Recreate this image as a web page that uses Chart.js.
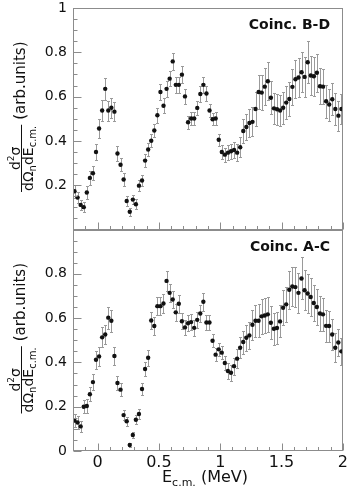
<!DOCTYPE html>
<html>
<head>
<meta charset="utf-8">
<script src="https://cdn.jsdelivr.net/npm/chart.js@4.4.0/dist/chart.umd.min.js"></script>
<style>
  body { margin: 0; background: #fff; }
  #wrap { position: relative; width: 350px; height: 493px; }
  canvas { position: absolute; left: 0; top: 0; }
</style>
</head>
<body>
<div id="wrap">
  <canvas id="topChart" width="350" height="493"></canvas>
  <canvas id="bottomChart" width="350" height="493"></canvas>
</div>
<script>
// bin centres, E c.m. in MeV
const energies = [
  -0.1875,-0.1625,-0.1375,-0.1125,-0.0875,-0.0625,-0.0375,-0.0125,0.0125,0.0375,
  0.0625,0.0875,0.1125,0.1375,0.1625,0.1875,0.2125,0.2375,0.2625,0.2875,
  0.3125,0.3375,0.3625,0.3875,0.4125,0.4375,0.4625,0.4875,0.5125,0.5375,
  0.5625,0.5875,0.6125,0.6375,0.6625,0.6875,0.7125,0.7375,0.7625,0.7875,
  0.8125,0.8375,0.8625,0.8875,0.9125,0.9375,0.9625,0.9875,1.0125,1.0375,
  1.0625,1.0875,1.1125,1.1375,1.1625,1.1875,1.2125,1.2375,1.2625,1.2875,
  1.3125,1.3375,1.3625,1.3875,1.4125,1.4375,1.4625,1.4875,1.5125,1.5375,
  1.5625,1.5875,1.6125,1.6375,1.6625,1.6875,1.7125,1.7375,1.7625,1.7875,
  1.8125,1.8375,1.8625,1.8875,1.9125,1.9375,1.9625,1.9875
];

const bdValues = [
  0.173,0.144,0.111,0.101,0.167,0.233,0.254,0.350,0.456,0.537,
  0.635,0.537,0.550,0.532,0.343,0.292,0.226,0.129,0.080,0.135,
  0.114,0.198,0.221,0.311,0.361,0.401,0.447,0.516,0.621,0.559,
  0.635,0.681,0.759,0.653,0.653,0.699,0.601,0.484,0.501,0.501,
  0.549,0.612,0.653,0.614,0.537,0.498,0.501,0.405,0.350,0.338,
  0.347,0.353,0.359,0.347,0.371,0.445,0.463,0.481,0.486,0.544,
  0.621,0.618,0.645,0.669,0.595,0.547,0.543,0.537,0.550,0.573,
  0.589,0.644,0.678,0.686,0.710,0.689,0.755,0.695,0.692,0.708,
  0.647,0.645,0.579,0.564,0.588,0.544,0.514,0.544
];
const bdErrors = [
  0.030,0.025,0.022,0.022,0.030,0.030,0.032,0.038,0.045,0.048,
  0.050,0.045,0.045,0.043,0.035,0.030,0.028,0.022,0.018,0.022,
  0.022,0.025,0.025,0.028,0.030,0.030,0.030,0.033,0.035,0.035,
  0.035,0.035,0.040,0.035,0.035,0.038,0.035,0.030,0.030,0.030,
  0.032,0.035,0.035,0.035,0.030,0.028,0.028,0.028,0.030,0.032,
  0.035,0.035,0.037,0.040,0.045,0.055,0.060,0.062,0.065,0.075,
  0.078,0.080,0.082,0.085,0.075,0.070,0.070,0.070,0.072,0.075,
  0.078,0.082,0.085,0.087,0.090,0.090,0.095,0.090,0.088,0.085,
  0.080,0.078,0.075,0.072,0.072,0.070,0.068,0.068
];

const acValues = [
  0.137,0.129,0.111,0.200,0.203,0.256,0.311,0.412,0.427,0.513,
  0.526,0.602,0.588,0.429,0.307,0.277,0.162,0.134,0.027,0.072,
  0.141,0.167,0.280,0.370,0.421,0.589,0.564,0.654,0.654,0.666,
  0.768,0.714,0.684,0.626,0.665,0.586,0.558,0.577,0.582,0.556,
  0.592,0.621,0.674,0.580,0.580,0.498,0.435,0.459,0.444,0.397,
  0.361,0.353,0.383,0.417,0.466,0.492,0.511,0.522,0.570,0.588,
  0.588,0.608,0.612,0.617,0.579,0.552,0.555,0.585,0.647,0.662,
  0.728,0.743,0.740,0.714,0.779,0.726,0.711,0.695,0.668,0.650,
  0.621,0.617,0.565,0.564,0.526,0.466,0.490,0.450
];
const acErrors = [
  0.030,0.030,0.025,0.030,0.030,0.032,0.035,0.040,0.042,0.045,
  0.045,0.050,0.050,0.040,0.032,0.030,0.022,0.020,0.010,0.015,
  0.020,0.022,0.028,0.030,0.035,0.040,0.040,0.042,0.042,0.042,
  0.045,0.042,0.040,0.038,0.040,0.035,0.035,0.035,0.035,0.035,
  0.035,0.038,0.040,0.035,0.035,0.030,0.030,0.030,0.030,0.032,
  0.035,0.035,0.038,0.042,0.048,0.052,0.058,0.062,0.068,0.072,
  0.075,0.078,0.080,0.080,0.075,0.072,0.072,0.072,0.078,0.080,
  0.085,0.088,0.090,0.090,0.095,0.090,0.088,0.085,0.082,0.080,
  0.078,0.075,0.072,0.070,0.068,0.065,0.062,0.060
];

const xTicks = [0, 0.5, 1, 1.5, 2];
const yTicksTop = [0.2, 0.4, 0.6, 0.8, 1];
const yTicksBottom = [0, 0.2, 0.4, 0.6, 0.8];

const FONT = '"DejaVu Sans", sans-serif';
Chart.defaults.font.family = FONT;

// draw a row of text pieces (for sub/superscripts), returns width
function textRuns(ctx, runs, x, y, draw) {
  let w = 0;
  runs.forEach(r => {
    ctx.font = (r.bold ? 'bold ' : '') + r.size + 'px ' + FONT;
    if (draw) ctx.fillText(r.t, x + w, y + (r.dy || 0));
    w += ctx.measureText(r.t).width;
  });
  return w;
}

function drawYTitle(ctx, cy) {
  const num = [{t: 'd', size: 14}, {t: '2', size: 9, dy: -6}, {t: 'σ', size: 14}];
  const den = [{t: 'dΩ', size: 14}, {t: 'n', size: 10, dy: 3}, {t: 'dE', size: 14}, {t: 'c.m.', size: 10, dy: 3}];
  const unit = [{t: '(arb.units)', size: 15}];
  ctx.save();
  ctx.translate(0, cy);
  ctx.rotate(-Math.PI / 2);
  ctx.fillStyle = '#111';
  ctx.textBaseline = 'alphabetic';
  ctx.textAlign = 'left';
  const wn = textRuns(ctx, num, 0, 0, false);
  const wd = textRuns(ctx, den, 0, 0, false);
  const wu = textRuns(ctx, unit, 0, 0, false);
  const wf = Math.max(wn, wd) + 2;
  const gap = 5;
  const u0 = -(wf + gap + wu) / 2 + 2;
  ctx.strokeStyle = '#111';
  ctx.lineWidth = 1;
  ctx.beginPath();
  ctx.moveTo(u0, 21.5);
  ctx.lineTo(u0 + wf, 21.5);
  ctx.stroke();
  textRuns(ctx, num, u0 + (wf - wn) / 2, 19.5, true);
  textRuns(ctx, den, u0 + (wf - wd) / 2, 33, true);
  textRuns(ctx, unit, u0 + wf + gap, 24.5, true);
  ctx.restore();
}

const errorBars = {
  id: 'errorBars',
  beforeDatasetsDraw(chart, args, opts) {
    const {ctx, chartArea: a, scales: {y}} = chart;
    const pts = chart.getDatasetMeta(0).data;
    const vals = chart.data.datasets[0].data;
    ctx.save();
    ctx.beginPath();
    ctx.rect(a.left, a.top, a.right - a.left, a.bottom - a.top);
    ctx.clip();
    ctx.strokeStyle = '#9a9a9a';
    ctx.lineWidth = 1;
    ctx.beginPath();
    pts.forEach((p, i) => {
      const v = vals[i].y, e = opts.errors[i];
      const y1 = Math.round(y.getPixelForValue(v + e)) + 0.5;
      const y2 = Math.round(y.getPixelForValue(v - e)) + 0.5;
      const px = Math.round(p.x) + 0.5;
      ctx.moveTo(px, y1); ctx.lineTo(px, y2);
      ctx.moveTo(px - 1.5, y1); ctx.lineTo(px + 1.5, y1);
      ctx.moveTo(px - 1.5, y2); ctx.lineTo(px + 1.5, y2);
    });
    ctx.stroke();
    ctx.restore();
  }
};

const frame = {
  id: 'frame',
  afterDraw(chart, args, opts) {
    const {ctx, chartArea: a, scales: {x, y}} = chart;
    const L = Math.round(a.left) + 0.5, R = Math.round(a.right) - 0.5;
    const T = Math.round(a.top) + 0.5, B = Math.round(a.bottom) - 0.5;
    ctx.save();
    ctx.strokeStyle = '#8c8c8c';
    ctx.lineWidth = 1;
    ctx.strokeRect(L, T, R - L, B - T);
    ctx.beginPath();
    for (let k = -2; k <= 20; k++) {
      const px = Math.round(x.getPixelForValue(k / 10)) + 0.5;
      const len = k % 5 === 0 ? 7 : 3.5;
      ctx.moveTo(px, B); ctx.lineTo(px, B - len);
    }
    for (let k = 0; k <= 20; k++) {
      const py = Math.round(y.getPixelForValue(k / 20)) + 0.5;
      const len = k % 4 === 0 ? 8 : 4;
      ctx.moveTo(L, py); ctx.lineTo(L + len, py);
    }
    ctx.stroke();

    // panel label
    ctx.fillStyle = '#111';
    ctx.textAlign = 'right';
    ctx.textBaseline = 'alphabetic';
    ctx.font = 'bold 14px ' + FONT;
    ctx.fillText(opts.label, 330, a.top + 21);

    drawYTitle(ctx, (a.top + a.bottom) / 2);

    if (opts.xTitle) {
      ctx.textAlign = 'left';
      const runs = [{t: 'E', size: 16}, {t: 'c.m.', size: 11, dy: 4}, {t: ' (MeV)', size: 16}];
      const w = textRuns(ctx, runs, 0, 0, false);
      textRuns(ctx, runs, 205 - w / 2, 481.5, true);
    }
    ctx.restore();
  }
};

function makePanel(id, values, errors, label, yTicks, isBottom) {
  return new Chart(document.getElementById(id), {
    type: 'scatter',
    data: {
      datasets: [{
        data: energies.map((e, i) => ({x: e, y: values[i]})),
        pointRadius: 2.2,
        pointBackgroundColor: '#111',
        pointBorderWidth: 0,
        showLine: false
      }]
    },
    options: {
      responsive: false,
      animation: false,
      events: [],
      layout: {
        padding: isBottom
          ? {top: 229.5, right: 7, bottom: 0, left: 0}
          : {top: 8, right: 7, bottom: 263.5, left: 0}
      },
      plugins: {
        legend: {display: false},
        tooltip: {enabled: false},
        errorBars: {errors: errors},
        frame: {label: label, xTitle: isBottom}
      },
      scales: {
        x: {
          type: 'linear',
          min: -0.2,
          max: 2,
          display: isBottom,
          afterBuildTicks: s => { s.ticks = xTicks.map(v => ({value: v})); },
          afterFit: s => { s.height = isBottom ? 42 : 0; },
          grid: {display: false, drawTicks: false},
          border: {display: false},
          ticks: {
            padding: 2, color: '#111', maxRotation: 0, autoSkip: false,
            font: {size: 16},
            callback: v => String(v)
          }
        },
        y: {
          min: 0,
          max: 1,
          afterBuildTicks: s => { s.ticks = yTicks.map(v => ({value: v})); },
          afterFit: s => { s.width = 73; },
          grid: {display: false, drawTicks: false},
          border: {display: false},
          ticks: {
            padding: 6, color: '#111',
            font: {size: 14, lineHeight: 0.2},
            callback: v => String(v)
          }
        }
      }
    },
    plugins: [errorBars, frame]
  });
}

makePanel('topChart', bdValues, bdErrors, 'Coinc. B-D', yTicksTop, false);
makePanel('bottomChart', acValues, acErrors, 'Coinc. A-C', yTicksBottom, true);
</script>
</body>
</html>
